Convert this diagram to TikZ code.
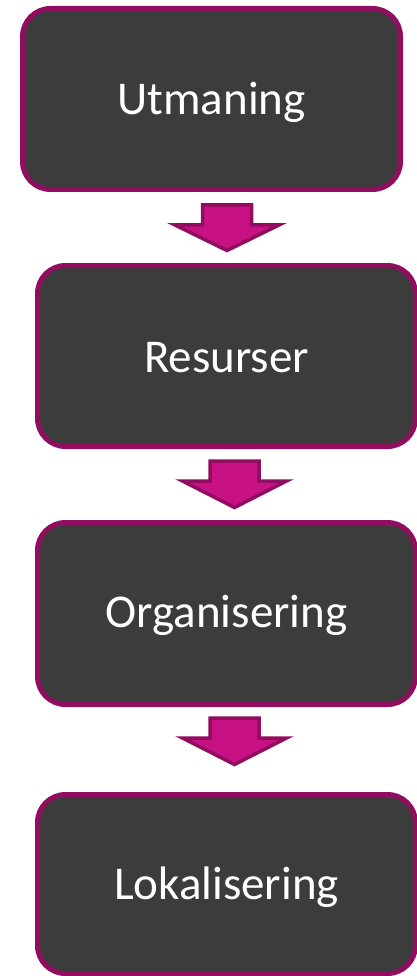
\documentclass[tikz,border=0pt]{standalone}
\usepackage{fontspec}
\setmainfont{Carlito}
\definecolor{boxfill}{HTML}{3C3C3C}
\definecolor{boxline}{HTML}{910D60}
\definecolor{arrfill}{HTML}{C81182}
\begin{document}
\begin{tikzpicture}[x=1pt,y=-1pt,
  stage/.style={draw=boxline, line width=5pt, fill=boxfill, rounded corners=28pt},
  stagetext/.style={text=white, font=\fontsize{47}{50}\selectfont, inner sep=0pt},
  downarrow/.style={draw=boxline, fill=arrfill, line width=3.5pt, line join=miter}]
\useasboundingbox (0,0) rectangle (417,976);
% boxes
\draw[stage] (22.5,8.5) rectangle (400.5,189.5);
\node[stagetext] (b1) at (211.5,102) {Utmaning};
\draw[stage] (37.5,265.5) rectangle (415.5,446.5);
\node[stagetext] (b2) at (226.5,358) {Resurser};
\draw[stage] (37.5,522.5) rectangle (415.5,704.5);
\node[stagetext] (b3) at (226.5,615) {Organisering};
\draw[stage] (37.5,794.5) rectangle (415.5,973.5);
\node[stagetext] (b4) at (226.5,887) {Lokalisering};
% arrows
\newcommand{\flowarrow}[3]{% center x, top y, tip y
  \draw[downarrow] (#1-24.5,#2+2) -- (#1+24.5,#2+2) -- (#1+24.5,#2+22) -- (#1+52,#2+22)
    -- (#1,#3-2.5) -- (#1-52,#2+22) -- (#1-24.5,#2+22) -- cycle;}
\flowarrow{227}{203}{253}
\flowarrow{234.5}{459}{510}
\flowarrow{234.5}{716}{767}
\end{tikzpicture}
\end{document}
